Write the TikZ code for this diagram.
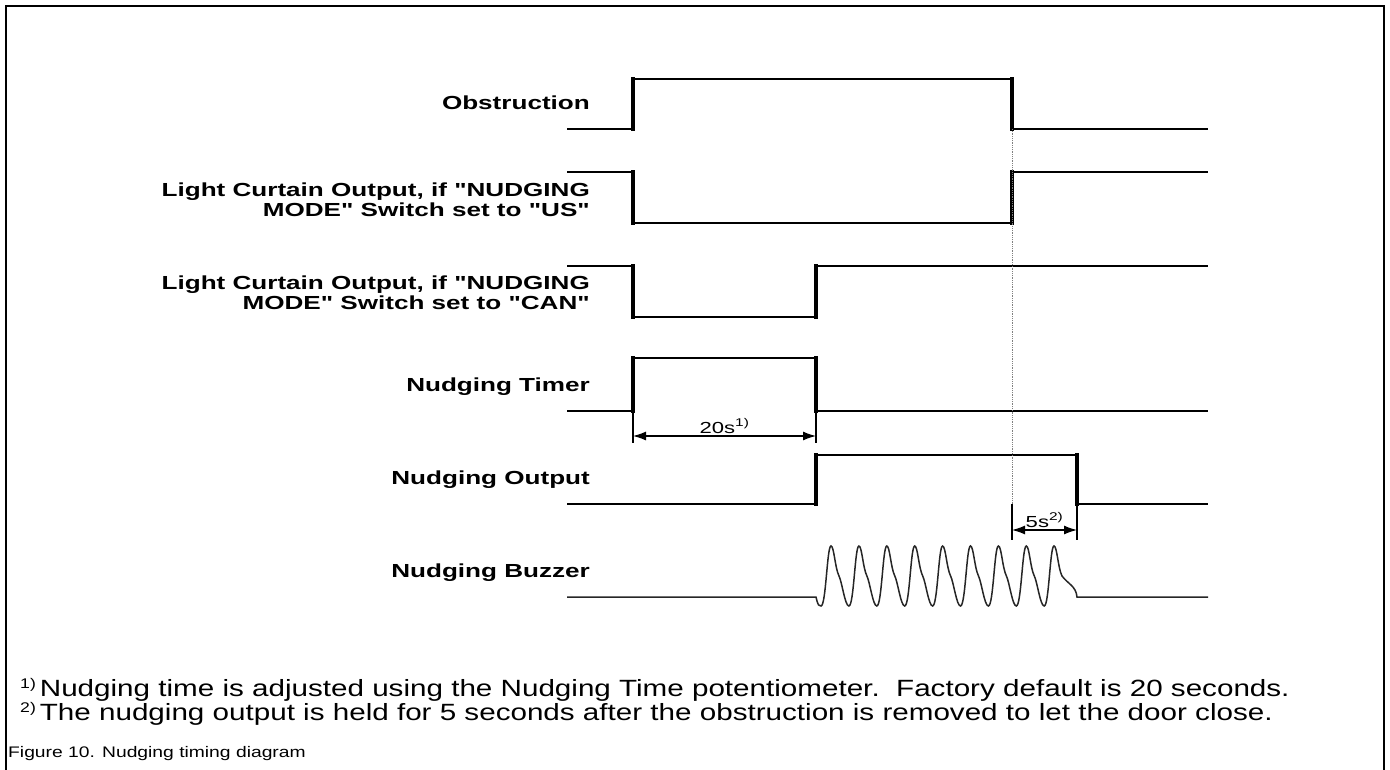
\documentclass[tikz,border=0pt]{standalone}
\usepackage{fontspec}
\setmainfont{Liberation Sans}[FakeStretch=1.38, Ligatures=TeXOff]
\newfontfamily\notefont{Liberation Sans}[FakeStretch=1.26]
\usepackage{tikz}
\usetikzlibrary{arrows.meta, positioning}
\tikzstyle{sig} = [draw, line width=2.2pt]
\tikzstyle{edge} = [draw, line width=3.4pt, line cap=rect]
\tikzstyle{buzz} = [draw, line width=1.5pt, black!85]
\tikzstyle{siglabel} = [anchor=base east, inner sep=0pt, align=right,
	font=\bfseries\fontsize{18.9}{20}\selectfont]
\tikzstyle{dim} = [draw, line width=1.2pt,
	{Latex[length=13pt,width=9pt]}-{Latex[length=13pt,width=9pt]}]
\tikzstyle{ext} = [draw, line width=1.4pt]
\tikzstyle{dimtext} = [inner sep=1pt, font=\fontsize{16}{17}\selectfont]
\tikzstyle{note} = [anchor=base west, inner sep=0pt, font=\notefont\fontsize{23.5}{25}\selectfont]
\newcommand{\fnmark}[1]{\raisebox{8pt}{\fontsize{14}{14}\selectfont #1)}\hspace{4pt}}

\begin{document}
\begin{tikzpicture}[x=1pt, y=-1pt]
		\useasboundingbox (0,0) rectangle (1390,770);
		\def\xL{567} \def\xR{1208}
		\def\tOn{633} \def\tTmr{816} \def\tOff{1012} \def\tHold{1077}

		% frame
		\draw [line width=2.5pt] (6,775) -- (6,6) -- (1384,6) -- (1384,775);

		% signal names
		\node [siglabel] (obstr) at (590,110) {Obstruction};
		\node [siglabel, anchor=east] (lcus) at (590,200) {Light Curtain Output, if "NUDGING\\MODE" Switch set to "US"};
		\node [siglabel, anchor=east] (lccan) at (590,293) {Light Curtain Output, if "NUDGING\\MODE" Switch set to "CAN"};
		\node [siglabel] (ntimer) at (590,391) {Nudging Timer};
		\node [siglabel] (nout) at (590,484) {Nudging Output};
		\node [siglabel] (nbuzz) at (590,577) {Nudging Buzzer};

		% waveforms
		\draw [sig] (\xL,129) -- (\tOn,129) -- (\tOn,79) -- (\tOff,79) -- (\tOff,129) -- (\xR,129);
		\draw [sig] (\xL,172) -- (\tOn,172) -- (\tOn,223) -- (\tOff,223) -- (\tOff,172) -- (\xR,172);
		\draw [sig] (\xL,266) -- (\tOn,266) -- (\tOn,317) -- (\tTmr,317) -- (\tTmr,266) -- (\xR,266);
		\draw [sig] (\xL,411) -- (\tOn,411) -- (\tOn,358) -- (\tTmr,358) -- (\tTmr,411) -- (\xR,411);
		\draw [sig] (\xL,504) -- (\tTmr,504) -- (\tTmr,455) -- (\tHold,455) -- (\tHold,504) -- (\xR,504);
		% heavier switching edges
		\foreach \x/\ya/\yb in {\tOn/79/129, \tOff/79/129, \tOn/172/223, \tOff/172/223,
				\tOn/266/317, \tTmr/266/317, \tOn/358/411, \tTmr/358/411, \tTmr/455/504, \tHold/455/504}
			\draw [edge] (\x,\ya) -- (\x,\yb);
		\draw [buzz] (\xL,597) -- (\tTmr,597) .. controls (818,606) and (819,606) .. (821,606)
			\foreach \i [evaluate=\i as \p using 831+27.9*\i] in {0,...,7} {
				.. controls (\p-5,606) and (\p-4,546) .. (\p,546)
				.. controls (\p+3,546) and (\p+4,568) .. (\p+8,576)
				.. controls (\p+11,582) and (\p+14,606) .. (\p+17.9,606)}
			.. controls (1049,606) and (1050,546) .. (1054,546)
			.. controls (1057,546) and (1058,568) .. (1062,576)
			.. controls (1068,584) and (1076,586) .. (\tHold,597) -- (\xR,597);
		\draw [gray, line width=0.8pt, densely dotted] (\tOff,129) -- (\tOff,504);

		% 20 s dimension
		\coordinate (d20a) at (\tOn,436);
		\coordinate (d20b) at (\tTmr,436);
		\draw [ext] (\tOn,411) -- (\tOn,443);
		\draw [ext] (\tTmr,411) -- (\tTmr,443);
		\path [dim] (d20a) -- node [dimtext, above=1pt] (t20) {20s\textsuperscript{1)}} (d20b);

		% 5 s dimension
		\coordinate (d5a) at (\tOff,530);
		\coordinate (d5b) at (\tHold,530);
		\draw [ext, line width=2.6pt] (\tOff,504) -- (\tOff,540);
		\draw [ext] (\tHold,504) -- (\tHold,540);
		\path [dim] (d5a) -- node [dimtext, above=1pt] (t5) {5s\textsuperscript{2)}} (d5b);

		% notes
		\node [note] (fn1) at (20,696) {\fnmark{1}Nudging time is adjusted using the Nudging Time potentiometer.\ \ Factory default is 20 seconds.};
		\node [note] (fn2) at (20,720) {\fnmark{2}The nudging output is held for 5 seconds after the obstruction is removed to let the door close.};
		\node [anchor=base west, inner sep=0pt, font=\notefont\fontsize{15.3}{17}\selectfont] (cap) at (8,757) {Figure 10. Nudging timing diagram};
	\end{tikzpicture}
\end{document}
